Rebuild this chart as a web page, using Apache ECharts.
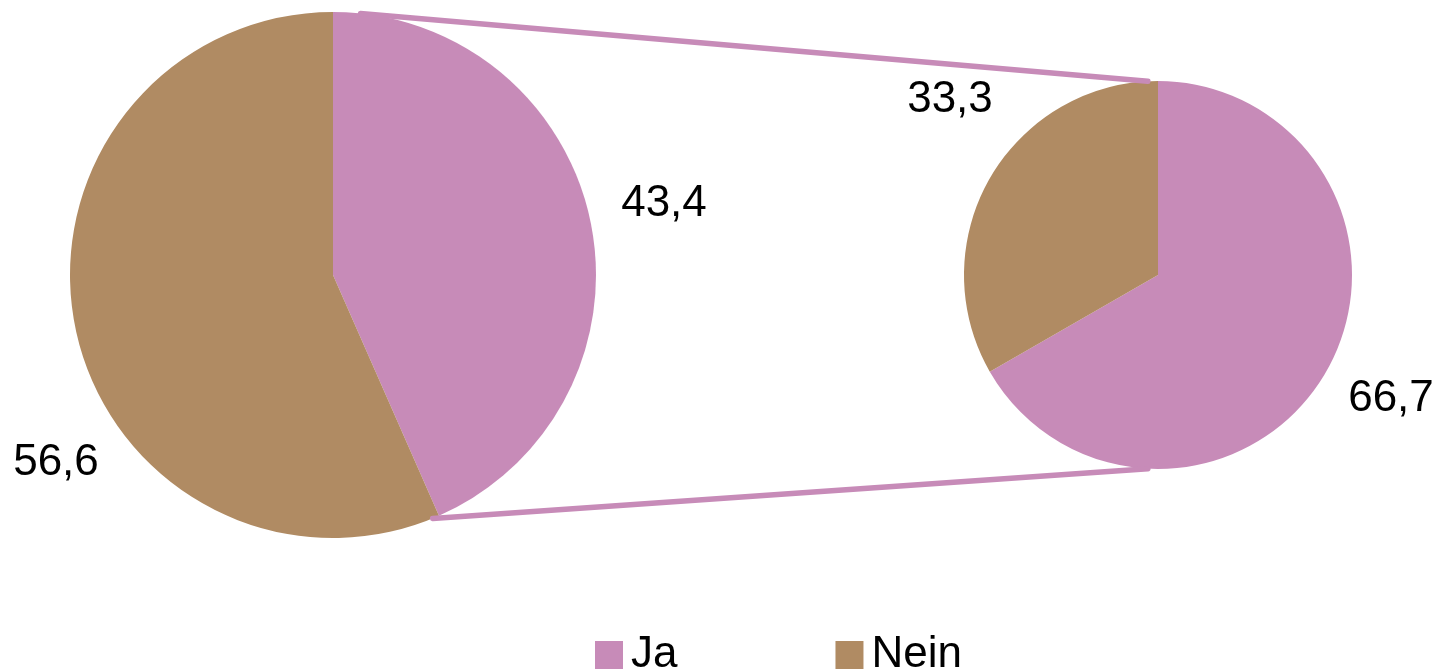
<!DOCTYPE html>
<html>
<head>
<meta charset="utf-8">
<script src="https://cdn.jsdelivr.net/npm/echarts@6/dist/echarts.min.js"></script>
<style>
  html, body { margin: 0; padding: 0; background: #fff; }
  #chart { width: 1439px; height: 671px; }
</style>
</head>
<body>
<div id="chart"></div>
<script>
var categories = ['Ja', 'Nein'];
var leftValues = [43.4, 56.6];
var rightValues = [66.7, 33.3];

var Color = ['#C78BB8', '#B08B63'];

// pie geometry
var leftCenter = [333, 275], leftRadius = 263;
var rightCenter = [1158, 275], rightRadius = 194;

// label offsets from each pie centre (Excel placed them by hand)
var labelOffsets = [
  [[331, -71], [-277, 188]],
  [[233, 124], [-208, -175]]
];

function pointOn(center, r, deg) {
  var a = deg * Math.PI / 180;
  return [center[0] + r * Math.sin(a), center[1] - r * Math.cos(a)];
}

function fmt(v) {
  return String(v).replace('.', ',');
}

var jaEnd = leftValues[0] / (leftValues[0] + leftValues[1]) * 360;
var p1 = pointOn(leftCenter, leftRadius, 6);
var p2 = pointOn(rightCenter, rightRadius, -3);
var p3 = pointOn(leftCenter, leftRadius, jaEnd + 1.5);
var p4 = pointOn(rightCenter, rightRadius, 183);

var chart = echarts.init(document.getElementById('chart'));

function pieSeries(values, center, radius, idx) {
  return {
    type: 'pie',
    center: center,
    radius: radius,
    startAngle: 90,
    clockwise: true,
    animation: false,
    silent: true,
    avoidLabelOverlap: false,
    data: categories.map(function (c, i) {
      return {name: c, value: values[i], itemStyle: {color: Color[i]}};
    }),
    label: {
      show: true,
      position: 'outside',
      overflow: 'none',
      formatter: function (p) { return fmt(p.value); },
      fontFamily: 'Liberation Sans, Arial, sans-serif',
      fontSize: 44,
      color: '#000'
    },
    labelLine: {show: false},
    labelLayout: function (params) {
      var off = labelOffsets[idx][params.dataIndex];
      return {
        x: center[0] + off[0],
        y: center[1] + off[1],
        align: 'center',
        verticalAlign: 'middle'
      };
    }
  };
}

var option = {
  backgroundColor: '#fff',
  legend: {
    data: categories,
    top: 628,
    left: 590,
    icon: 'rect',
    itemWidth: 28,
    itemHeight: 28,
    itemGap: 158,
    selectedMode: false,
    textStyle: {
      fontFamily: 'Liberation Sans, Arial, sans-serif',
      fontSize: 44,
      color: '#000',
      padding: [0, 0, 0, 3]
    }
  },
  graphic: [
    {
      type: 'line', z: 100,
      shape: {x1: p1[0], y1: p1[1], x2: p2[0], y2: p2[1]},
      style: {stroke: Color[0], lineWidth: 5.5, lineCap: 'round'}
    },
    {
      type: 'line', z: 100,
      shape: {x1: p3[0], y1: p3[1], x2: p4[0], y2: p4[1]},
      style: {stroke: Color[0], lineWidth: 5.5, lineCap: 'round'}
    }
  ],
  series: [
    pieSeries(leftValues, leftCenter, leftRadius, 0),
    pieSeries(rightValues, rightCenter, rightRadius, 1)
  ]
};
chart.setOption(option);
</script>
</body>
</html>
